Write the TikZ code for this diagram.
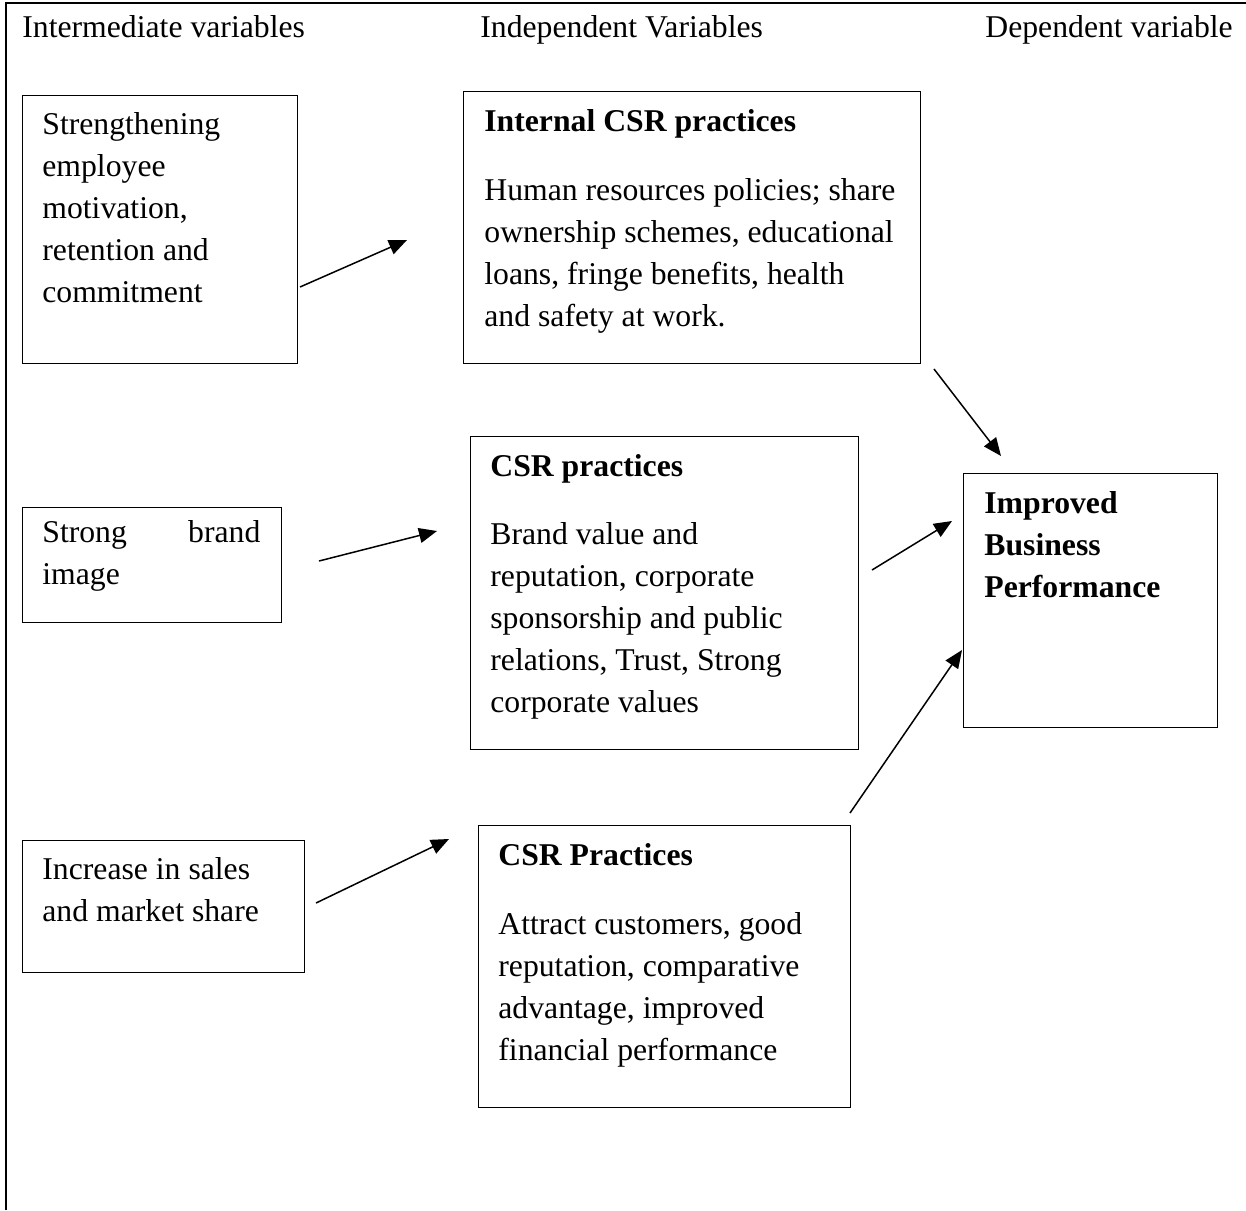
\documentclass[tikz,border=0pt]{standalone}
\usepackage{fontspec}
\setmainfont{Liberation Serif}
\usetikzlibrary{arrows.meta}
\begin{document}
\begin{tikzpicture}[x=0.5pt,y=-0.5pt,
  boxst/.style={draw, line width=0.6pt, rectangle, anchor=north west, inner sep=0pt},
  txt/.style={anchor=base west, inner sep=0pt, align=left, font=\fontsize{15.85}{21}\selectfont},
  ttl/.style={txt, font=\fontsize{15.85}{21}\selectfont\bfseries},
  arr/.style={line width=0.75pt, -{Triangle[length=9pt,width=7.5pt]}}]
\useasboundingbox (0,0) rectangle (1246,1210);
% outer frame (top and left only)
\coordinate (fa) at (6,1210);
\coordinate (fb) at (6,3);
\coordinate (fc) at (1246,3);
\draw[line width=1pt] (fa) -- (fb) -- (fc);
% headers
\node[txt] (h1) at (22,37) {Intermediate variables};
\node[txt] (h2) at (480,37) {Independent Variables};
\node[txt] (h3) at (985,37) {Dependent variable};
% boxes
\node[boxst, minimum width=137.5pt, minimum height=134pt] (b1) at (22,95) {};
\node[boxst, minimum width=228.5pt, minimum height=136pt] (b2) at (463,91) {};
\node[boxst, minimum width=129.5pt, minimum height=57.5pt] (b3) at (22,507) {};
\node[boxst, minimum width=194pt, minimum height=156.5pt] (b4) at (470,436) {};
\node[boxst, minimum width=127pt, minimum height=127pt] (b5) at (963,473) {};
\node[boxst, minimum width=141pt, minimum height=66pt] (b6) at (22,840) {};
\node[boxst, minimum width=186pt, minimum height=141pt] (b7) at (478,825) {};
% texts
\node[txt] (t1) at (42,302) {Strengthening\\employee\\motivation,\\retention and\\commitment};
\node[ttl] (t2a) at (484,131) {Internal CSR practices};
\node[txt] (t2b) at (484,326) {Human resources policies; share\\ownership schemes, educational\\loans, fringe benefits, health\\and safety at work.};
\node[txt] (t3) at (42,584) {\hbox to 109pt{Strong\hfill brand}\\image};
\node[ttl] (t4a) at (490,476) {CSR practices};
\node[txt] (t4b) at (490,712) {Brand value and\\reputation, corporate\\sponsorship and public\\relations, Trust, Strong\\corporate values};
\node[ttl] (t5) at (984,597) {Improved\\Business\\Performance};
\node[txt] (t6) at (42,921) {Increase in sales\\and market share};
\node[ttl] (t7a) at (498,865) {CSR Practices};
\node[txt] (t7b) at (498,1060) {Attract customers, good\\reputation, comparative\\advantage, improved\\financial performance};
% arrows
\coordinate (a1s) at (300,287); \coordinate (a1e) at (407,240);
\coordinate (a2s) at (934,369); \coordinate (a2e) at (1001,456);
\coordinate (a3s) at (319,561); \coordinate (a3e) at (437,531);
\coordinate (a4s) at (872,570); \coordinate (a4e) at (952,521);
\coordinate (a5s) at (316,903); \coordinate (a5e) at (449,839);
\coordinate (a6s) at (850,813); \coordinate (a6e) at (962,650);
\draw[arr] (a1s) -- (a1e);
\draw[arr] (a2s) -- (a2e);
\draw[arr] (a3s) -- (a3e);
\draw[arr] (a4s) -- (a4e);
\draw[arr] (a5s) -- (a5e);
\draw[arr] (a6s) -- (a6e);
\end{tikzpicture}
\end{document}
